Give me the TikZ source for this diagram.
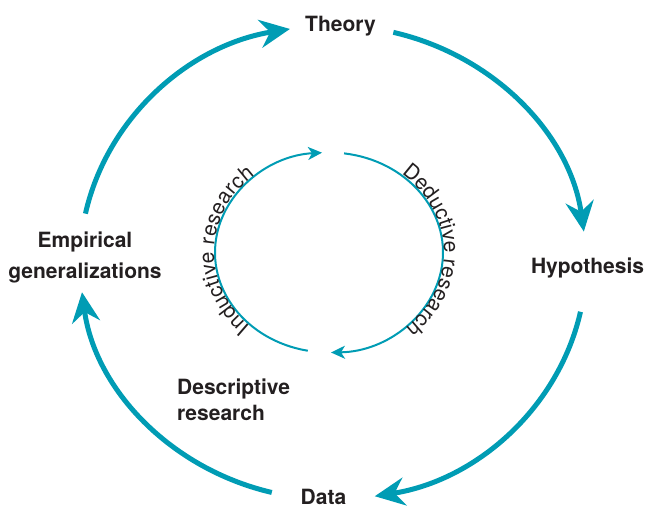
\documentclass[tikz,border=0pt]{standalone}
\usepackage{fontspec}
\setmainfont{TeX Gyre Heros}
\usepackage{xcolor}
\usepackage{tikz}
\usetikzlibrary{arrows.meta,calc,decorations.text}

\definecolor{cycleblue}{RGB}{0,156,180}
\definecolor{labelgray}{RGB}{35,31,32}

\begin{document}
\begin{tikzpicture}[x=1pt,y=1pt,
    outer arc/.style={cycleblue, line width=5pt, -{Stealth[length=30pt, width=28pt, inset=10pt]}},
    inner arc/.style={cycleblue, line width=2pt, -{Stealth[length=14pt, width=13pt, inset=4pt]}},
    stagetext/.style={text=labelgray, font=\fontsize{21}{25.6}\selectfont\bfseries, inner sep=0pt}]
    \useasboundingbox (0,0) rectangle (645,511);
    \coordinate (oc) at (333,248.5);
    \coordinate (ic) at (329,258.5);

    % Stages
    \node[stagetext, anchor=base] (theory) at (340.5,479) {Theory};
    \node[stagetext, anchor=base] (hypothesis) at (587.5,237) {Hypothesis};
    \node[stagetext, anchor=base] (data) at (323.5,6) {Data};
    \node[stagetext, anchor=north, align=center, font=\fontsize{21}{31}\selectfont\bfseries] (empirical) at (85,279.6) {Empirical\\generalizations};
    \node[stagetext, anchor=north west, align=left] (descriptive) at (177,132) {Descriptive\\research};

    % Outer cycle
    \draw[outer arc] ($(oc)+(168.1:253pt and 237pt)$) arc[start angle=168.1, end angle=99.8, x radius=253pt, y radius=237pt];
    \draw[outer arc] ($(oc)+(76.2:253pt and 237pt)$) arc[start angle=76.2, end angle=7.5, x radius=253pt, y radius=237pt];
    \draw[outer arc] ($(oc)+(-12:253pt and 237pt)$) arc[start angle=-12, end angle=-80.5, x radius=253pt, y radius=237pt];
    \draw[outer arc] ($(oc)+(256:253pt and 237pt)$) arc[start angle=256, end angle=187.2, x radius=253pt, y radius=237pt];

    % Inner cycle
    \draw[inner arc] ($(ic)+(82.4:114pt and 100pt)$) arc[start angle=82.4, end angle=-89, x radius=114pt, y radius=100pt];
    \draw[inner arc] ($(ic)+(259.3:114pt and 100pt)$) arc[start angle=259.3, end angle=93.5, x radius=114pt, y radius=100pt];

    % Curved labels
    \path[decorate, decoration={text along path, text align=fit to path, text color=labelgray,
        text={|\fontsize{21}{21}\selectfont|Deductive research}}]
        ($(ic)+(51:115pt and 101pt)$) arc[start angle=51, end angle=-48, x radius=115pt, y radius=101pt];
    \path[decorate, decoration={text along path, text align=fit to path, text color=labelgray,
        text={|\fontsize{21}{21}\selectfont|Inductive research}}]
        ($(ic)+(227:115pt and 101pt)$) arc[start angle=227, end angle=130, x radius=115pt, y radius=101pt];
\end{tikzpicture}
\end{document}
